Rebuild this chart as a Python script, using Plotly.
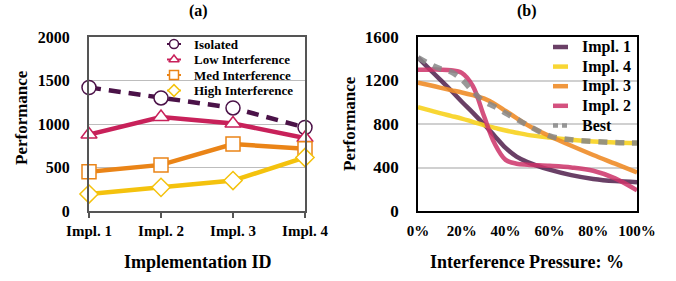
import plotly.graph_objects as go

# ---- Panel (a) data ----
impl_ids = ["Impl. 1", "Impl. 2", "Impl. 3", "Impl. 4"]
isolated = [1420, 1300, 1185, 960]
low_interf = [880, 1080, 1005, 840]
med_interf = [450, 530, 770, 715]
high_interf = [195, 272, 350, 615]
a_yticks = [0, 500, 1000, 1500, 2000]

# ---- Panel (b) data ----
pressure = [0, 5, 10, 15, 20, 25, 30, 35, 40, 45, 50, 60, 70, 80, 90, 100]
impl1 = [1410, 1310, 1210, 1110, 1005, 905, 800, 690, 580, 500, 450, 380, 330, 295, 275, 265]
impl4 = [955, 928, 900, 875, 850, 820, 790, 765, 740, 720, 700, 675, 655, 640, 630, 625]
impl3 = [1180, 1158, 1135, 1112, 1090, 1065, 1035, 985, 920, 855, 790, 690, 600, 515, 435, 355]
impl2 = [1300, 1300, 1300, 1295, 1270, 1150, 880, 620, 470, 435, 425, 415, 400, 370, 300, 190]
best = [1410, 1355, 1310, 1280, 1210, 1100, 1010, 960, 900, 845, 790, 690, 655, 640, 630, 625]
b_xticks = [0, 20, 40, 60, 80, 100]
b_yticks = [0, 400, 800, 1200, 1600]

FONT = "Liberation Serif"
W, H = 676, 281

fig = go.Figure()

# ---------- Panel (a) ----------
a_series = [
    ("Isolated", isolated, "#4b1248", "circle", True),
    ("Low Interference", low_interf, "#c8215a", "triangle-up", False),
    ("Med Interference", med_interf, "#ea8417", "square", False),
    ("High Interference", high_interf, "#f4c20d", "diamond", False),
]
for name, vals, col, sym, dashed in a_series:
    fig.add_trace(go.Scatter(
        x=impl_ids, y=vals, name=name, mode="lines+markers", showlegend=False,
        line=dict(color=col, width=4.5, dash="12px,8px" if dashed else "solid"),
        marker=dict(symbol=sym, size=14, color="white", line=dict(color=col, width=1.5)),
        xaxis="x", yaxis="y", cliponaxis=False,
    ))

# ---------- Panel (b) ----------
b_series = [
    ("Impl. 1", impl1, "rgba(80,30,75,0.85)", False),
    ("Impl. 4", impl4, "rgba(247,210,30,0.9)", False),
    ("Impl. 3", impl3, "rgba(238,140,40,0.9)", False),
    ("Impl. 2", impl2, "rgba(205,50,105,0.85)", False),
    ("Best", best, "rgba(135,135,135,0.85)", True),
]
for name, vals, col, dashed in b_series:
    fig.add_trace(go.Scatter(
        x=pressure, y=vals, name=name, mode="lines", showlegend=False,
        line=dict(color=col, width=5.5 if dashed else 4.5, shape="spline", smoothing=1.0,
                  dash="9px,8px" if dashed else "solid"),
        xaxis="x2", yaxis="y2",
    ))

# ---------- Manual legends (pixel-space overlay axis) ----------
annotations = []
LA_X, LA_Y, LA_DY = 174, 44, 15.5
for i, (name, vals, col, sym, dashed) in enumerate(a_series):
    yy = LA_Y + i * LA_DY
    fig.add_trace(go.Scatter(
        x=[LA_X - 7, LA_X + 7], y=[yy, yy], mode="lines", showlegend=False,
        line=dict(color=col, width=2), xaxis="x3", yaxis="y3", hoverinfo="skip",
    ))
    fig.add_trace(go.Scatter(
        x=[LA_X], y=[yy], mode="markers", showlegend=False,
        marker=dict(symbol=sym, size=9, color="white", line=dict(color=col, width=1.5)),
        xaxis="x3", yaxis="y3", hoverinfo="skip", cliponaxis=False,
    ))
    annotations.append(dict(
        text=f"<b>{name}</b>", x=LA_X + 18, y=yy, xref="x3", yref="y3",
        xanchor="left", yanchor="middle", showarrow=False,
        font=dict(family=FONT, size=13, color="black"),
    ))
LB_X, LB_Y, LB_DY = 553, 47, 19.6
for i, (name, vals, col, dashed) in enumerate(b_series):
    yy = LB_Y + i * LB_DY
    fig.add_trace(go.Scatter(
        x=[LB_X, LB_X + 15], y=[yy, yy], mode="lines", showlegend=False,
        line=dict(color=col, width=4.5, dash="5px,4px" if dashed else "solid"),
        xaxis="x3", yaxis="y3", hoverinfo="skip",
    ))
    annotations.append(dict(
        text=f"<b>{name}</b>", x=LB_X + 27, y=yy, xref="x3", yref="y3",
        xanchor="left", yanchor="middle", showarrow=False,
        font=dict(family=FONT, size=16, color="black"),
    ))

ytop, ybot = 37, 211
ydom = [1 - ybot / H, 1 - ytop / H]


def label(text, x, y, size, angle=0):
    return dict(text=f"<b>{text}</b>", x=x / W, y=1 - y / H, xref="paper", yref="paper",
                xanchor="center", yanchor="middle", showarrow=False, textangle=angle,
                font=dict(family=FONT, size=size, color="black"))


annotations += [
    label("(a)", 198, 11, 16),
    label("(b)", 527, 11, 16),
    label("Performance", 21, 118, 17, -90),
    label("Performance", 349, 124, 17, -90),
    label("Implementation ID", 198, 262, 18),
    label("Interference Pressure: %", 527, 262, 18),
]

tickfont = dict(family=FONT, size=15, color="black")

fig.update_layout(
    width=W, height=H,
    margin=dict(l=0, r=0, t=0, b=0, autoexpand=False),
    paper_bgcolor="white", plot_bgcolor="rgba(0,0,0,0)",
    font=dict(family=FONT, color="black"),
    showlegend=False,
    xaxis=dict(
        domain=[89 / W, 305 / W], type="category", range=[0, 3],
        tickmode="array", tickvals=impl_ids, ticktext=[f"<b>{t}</b>" for t in impl_ids],
        showline=True, linecolor="#555", linewidth=2, mirror=True,
        ticks="outside", ticklen=5, tickcolor="#555", tickwidth=1.5,
        showgrid=False, tickfont=tickfont, ticklabelstandoff=0, automargin=False,
    ),
    yaxis=dict(
        domain=ydom, range=[0, 2000], tickvals=a_yticks,
        ticktext=[f"<b>{v}</b>" for v in a_yticks],
        showline=True, linecolor="#555", linewidth=2, mirror=True,
        showgrid=True, gridcolor="#bdbdbd", gridwidth=1,
        ticks="", tickfont=dict(family=FONT, size=16, color="black"),
        ticklabelstandoff=14, zeroline=False, automargin=False,
    ),
    xaxis2=dict(
        domain=[418 / W, 637 / W], range=[0, 100], tickvals=b_xticks,
        ticktext=[f"<b>{v}%</b>" for v in b_xticks], anchor="y2",
        showline=True, linecolor="black", linewidth=1.5, mirror=True,
        showgrid=False, ticks="", tickfont=tickfont, ticklabelstandoff=5,
        zeroline=False, automargin=False,
    ),
    yaxis2=dict(
        domain=ydom, range=[0, 1600], tickvals=b_yticks,
        ticktext=[f"<b>{v}</b>" for v in b_yticks], anchor="x2",
        showline=True, linecolor="black", linewidth=1.5, mirror=True,
        showgrid=True, gridcolor="#d0d0d0", gridwidth=2,
        ticks="", tickfont=dict(family=FONT, size=17, color="black"),
        ticklabelstandoff=14, zeroline=False, automargin=False,
    ),
    xaxis3=dict(domain=[0, 1], range=[0, W], visible=False, anchor="y3", fixedrange=True),
    yaxis3=dict(domain=[0, 1], range=[H, 0], visible=False, anchor="x3", fixedrange=True),
    annotations=annotations,
)

fig.write_html(
    "out.html",
    config={"displayModeBar": False},
    post_script="document.body.style.margin='0';document.body.style.overflow='hidden';",
)
